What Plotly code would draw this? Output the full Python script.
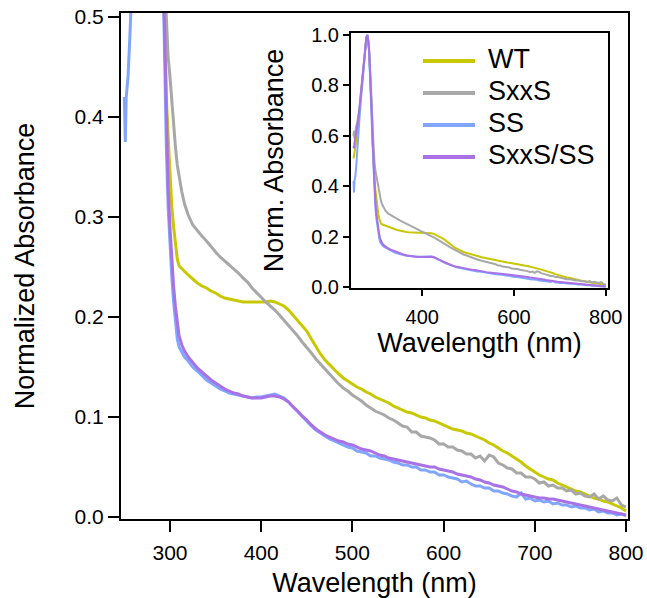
import plotly.graph_objects as go

# ---------------- data ----------------
wl_early = [250, 251, 252, 254, 256, 258, 260, 263, 266, 269, 272, 275, 278, 280, 282,
            284, 286, 288, 290, 292, 294, 296, 298, 300, 302, 304, 306, 308, 310, 313, 316]
wl_late = list(range(320, 801, 5))
wavelength = wl_early + wl_late

wt_early = [0.51, 0.52, 0.53, 0.55, 0.57, 0.60, 0.64, 0.70, 0.76, 0.83, 0.89, 0.95, 0.99, 1.00, 0.98,
            0.94, 0.87, 0.79, 0.69, 0.57, 0.48, 0.42, 0.38, 0.34, 0.31, 0.29, 0.273, 0.258, 0.251, 0.248, 0.246]
wt_late = [0.242, 0.238, 0.234, 0.231, 0.229, 0.226, 0.224, 0.221, 0.219, 0.218, 0.217, 0.216, 0.215, 0.215,
           0.215, 0.215, 0.215, 0.215, 0.216, 0.215, 0.213, 0.211, 0.207, 0.202, 0.197, 0.192, 0.186, 0.178,
           0.170, 0.163, 0.157, 0.152, 0.147, 0.143, 0.139, 0.136, 0.133, 0.130, 0.128, 0.125, 0.123, 0.120,
           0.118, 0.116, 0.114, 0.111, 0.109, 0.107, 0.105, 0.104, 0.102, 0.100, 0.099, 0.097, 0.096, 0.094,
           0.092, 0.090, 0.088, 0.087, 0.086, 0.084, 0.083, 0.081, 0.079, 0.077, 0.074, 0.072, 0.069, 0.066,
           0.064, 0.061, 0.058, 0.055, 0.051, 0.048, 0.045, 0.042, 0.040, 0.038, 0.037, 0.034, 0.032, 0.030,
           0.028, 0.026, 0.025, 0.023, 0.021, 0.019, 0.018, 0.016, 0.015, 0.013, 0.011, 0.009, 0.006]
wt = wt_early + wt_late

sxxs_early = [0.60, 0.62, 0.59, 0.62, 0.64, 0.65, 0.67, 0.71, 0.77, 0.83, 0.89, 0.95, 0.99, 1.00, 0.98,
              0.94, 0.88, 0.81, 0.72, 0.62, 0.54, 0.49, 0.46, 0.44, 0.415, 0.39, 0.37, 0.352, 0.340, 0.325, 0.313]
sxxs_late = [0.302, 0.292, 0.286, 0.281, 0.276, 0.270, 0.265, 0.260, 0.256, 0.252, 0.248, 0.244, 0.239, 0.235,
             0.229, 0.224, 0.220, 0.215, 0.211, 0.207, 0.202, 0.197, 0.192, 0.187, 0.181, 0.175, 0.170, 0.164,
             0.158, 0.153, 0.147, 0.142, 0.137, 0.133, 0.129, 0.126, 0.122, 0.119, 0.116, 0.112, 0.109, 0.106,
             0.104, 0.102, 0.099, 0.097, 0.094, 0.091, 0.090, 0.085, 0.085, 0.081, 0.080, 0.079, 0.077, 0.073,
             0.073, 0.070, 0.070, 0.067, 0.066, 0.063, 0.063, 0.059, 0.061, 0.056, 0.062, 0.060, 0.054, 0.052,
             0.049, 0.048, 0.044, 0.044, 0.040, 0.040, 0.038, 0.034, 0.035, 0.031, 0.032, 0.029, 0.029, 0.026,
             0.027, 0.023, 0.024, 0.021, 0.020, 0.023, 0.018, 0.021, 0.017, 0.016, 0.019, 0.012, 0.010]
sxxs = sxxs_early + sxxs_late

ss_early = [0.42, 0.375, 0.42, 0.44, 0.48, 0.55, 0.60, 0.67, 0.74, 0.81, 0.88, 0.95, 0.99, 1.00, 0.98,
            0.93, 0.85, 0.75, 0.65, 0.55, 0.46, 0.37, 0.31, 0.27, 0.24, 0.215, 0.195, 0.178, 0.170, 0.165, 0.160]
ss_late = [0.156, 0.150, 0.146, 0.141, 0.137, 0.134, 0.131, 0.128, 0.126, 0.124, 0.123, 0.122, 0.121, 0.120,
           0.119, 0.120, 0.120, 0.121, 0.122, 0.123, 0.121, 0.119, 0.115, 0.110, 0.105, 0.100, 0.095, 0.091,
           0.087, 0.084, 0.081, 0.078, 0.076, 0.074, 0.072, 0.070, 0.069, 0.066, 0.065, 0.064, 0.061, 0.061,
           0.059, 0.058, 0.057, 0.055, 0.054, 0.052, 0.052, 0.050, 0.050, 0.047, 0.047, 0.045, 0.045, 0.042,
           0.042, 0.040, 0.039, 0.038, 0.035, 0.036, 0.033, 0.031, 0.031, 0.029, 0.029, 0.026, 0.026, 0.024,
           0.023, 0.021, 0.020, 0.024, 0.018, 0.019, 0.016, 0.017, 0.015, 0.016, 0.013, 0.014, 0.012, 0.012,
           0.010, 0.011, 0.009, 0.009, 0.007, 0.008, 0.005, 0.006, 0.004, 0.004, 0.002, 0.003, 0.001]
ss = ss_early + ss_late

sxxsss_early = [0.56, 0.55, 0.57, 0.59, 0.61, 0.63, 0.66, 0.71, 0.77, 0.83, 0.89, 0.95, 0.99, 1.00, 0.98,
                0.94, 0.87, 0.78, 0.68, 0.57, 0.48, 0.40, 0.33, 0.29, 0.255, 0.23, 0.21, 0.192, 0.181, 0.172, 0.166]
sxxsss_late = [0.160, 0.154, 0.149, 0.145, 0.141, 0.137, 0.134, 0.131, 0.128, 0.126, 0.124, 0.123, 0.121, 0.120,
               0.119, 0.119, 0.119, 0.120, 0.121, 0.121, 0.120, 0.118, 0.115, 0.110, 0.106, 0.101, 0.097, 0.092,
               0.088, 0.085, 0.082, 0.080, 0.078, 0.076, 0.075, 0.073, 0.072, 0.070, 0.068, 0.067, 0.066, 0.064,
               0.062, 0.061, 0.059, 0.058, 0.057, 0.056, 0.055, 0.054, 0.053, 0.052, 0.051, 0.050, 0.050, 0.048,
               0.047, 0.046, 0.045, 0.043, 0.042, 0.041, 0.040, 0.038, 0.037, 0.035, 0.034, 0.032, 0.031, 0.030,
               0.028, 0.026, 0.025, 0.023, 0.022, 0.021, 0.020, 0.019, 0.019, 0.018, 0.018, 0.017, 0.016, 0.015,
               0.014, 0.013, 0.012, 0.011, 0.010, 0.009, 0.008, 0.007, 0.006, 0.005, 0.004, 0.003, 0.002]
sxxsss = sxxsss_early + sxxsss_late

series_names = ["WT", "SxxS", "SS", "SxxS/SS"]
series_values = [wt, sxxs, ss, sxxsss]
series_colors = ["#C8C800", "#A8A8A8", "#80A6FF", "#A872E6"]

main_xticks = [300, 400, 500, 600, 700, 800]
main_yticks = [0.0, 0.1, 0.2, 0.3, 0.4, 0.5]
inset_xticks = [400, 600, 800]
inset_yticks = [0.0, 0.2, 0.4, 0.6, 0.8, 1.0]

# ---------------- figure ----------------
W, H = 647, 598
FONT = "Arial, Liberation Sans, Helvetica, sans-serif"


def px_x(p):
    return p / W


def px_y(p):
    return 1 - p / H


fig = go.Figure()
for name, vals, col in zip(series_names, series_values, series_colors):
    fig.add_trace(go.Scatter(x=wavelength, y=vals, mode="lines", name=name,
                             line=dict(color=col, width=3), xaxis="x", yaxis="y",
                             showlegend=False))
for name, vals, col in zip(series_names, series_values, series_colors):
    fig.add_trace(go.Scatter(x=wavelength, y=vals, mode="lines", name=name,
                             line=dict(color=col, width=2), xaxis="x2", yaxis="y2",
                             showlegend=False))

axis_common = dict(showline=True, linecolor="black", linewidth=2, mirror=True,
                   showgrid=False, zeroline=False, ticks="outside", tickcolor="black",
                   tickwidth=2, automargin=False, ticklabeloverflow="allow")

# legend drawn as line keys + text labels inside the inset
leg_x0, leg_x1, leg_text_x = 423, 475, 486
leg_y0, leg_dy = 61, 32
shapes, annotations = [], []
for i, (name, col) in enumerate(zip(series_names, series_colors)):
    yy = leg_y0 + i * leg_dy
    shapes.append(dict(type="line", xref="paper", yref="paper",
                       x0=px_x(leg_x0), x1=px_x(leg_x1), y0=px_y(yy), y1=px_y(yy),
                       line=dict(color=col, width=4)))
    annotations.append(dict(text=name, xref="paper", yref="paper",
                            x=px_x(leg_text_x), y=px_y(yy - 2), xanchor="left", yanchor="middle",
                            showarrow=False, font=dict(family=FONT, size=27, color="black")))

fig.update_layout(
    width=W, height=H,
    margin=dict(l=0, r=0, t=0, b=0),
    paper_bgcolor="white", plot_bgcolor="white",
    font=dict(family=FONT, color="black"),
    xaxis=dict(domain=[px_x(121), px_x(628)], range=[246.3, 802.2],
               tickvals=main_xticks, ticklen=11, anchor="y", ticklabelstandoff=3,
               tickfont=dict(family=FONT, size=21, color="black"),
               title=dict(text="Wavelength (nm)", font=dict(size=27), standoff=11),
               **axis_common),
    yaxis=dict(domain=[px_y(519), px_y(13)], range=[-0.002, 0.504],
               tickvals=main_yticks, tickformat=".1f", ticklen=11, anchor="x",
               tickfont=dict(family=FONT, size=21, color="black"),
               title=dict(text="Normalized Absorbance", font=dict(size=27), standoff=32),
               **axis_common),
    xaxis2=dict(domain=[px_x(351), px_x(608)], range=[244.5, 805],
                tickvals=inset_xticks, ticklen=6, anchor="y2", ticklabelstandoff=4,
                tickfont=dict(family=FONT, size=20, color="black"),
                title=dict(text="Wavelength (nm)", font=dict(size=27), standoff=1),
                **axis_common),
    yaxis2=dict(domain=[px_y(288), px_y(33)], range=[-0.004, 1.008],
                tickvals=inset_yticks, tickformat=".1f", ticklen=6, anchor="x2",
                tickfont=dict(family=FONT, size=20, color="black"),
                title=dict(text="Norm. Absorbance", font=dict(size=27), standoff=20),
                **axis_common),
    shapes=shapes,
    annotations=annotations,
    showlegend=False,
)

# remove the browser's default 8px page margin so the figure fills the window exactly
fig.write_html("out.html", config={"displayModeBar": False},
               post_script="document.body.style.margin='0px';")
